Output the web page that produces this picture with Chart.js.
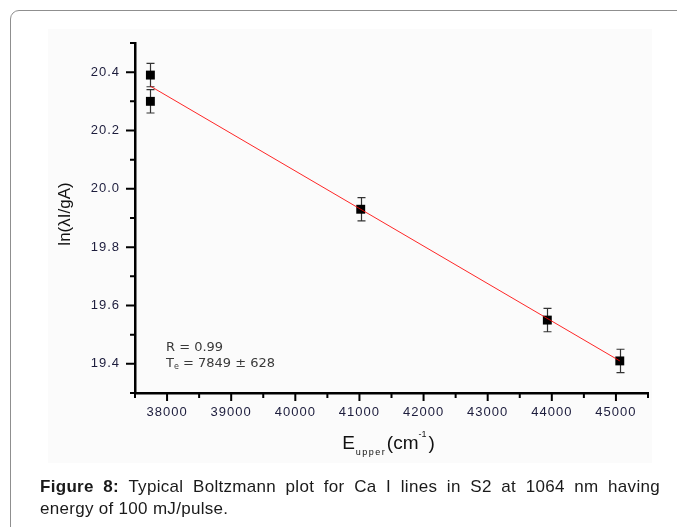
<!DOCTYPE html>
<html>
<head>
<meta charset="utf-8">
<script src="https://cdn.jsdelivr.net/npm/chart.js@4.4.1/dist/chart.umd.min.js"></script>
<style>
html,body{margin:0;padding:0;width:677px;height:527px;overflow:hidden;background:#fff;}
#frame{position:absolute;left:10px;top:10px;width:720px;height:580px;border:1.5px solid #8f8f8f;border-radius:9px;box-sizing:border-box;}
#plotbg{position:absolute;left:48px;top:29px;width:604px;height:434px;background:#fbfbfb;}
#wrap{position:absolute;left:0;top:0;width:677px;height:527px;}
#caption{position:absolute;left:40px;top:476px;width:620px;font-family:"Liberation Sans",Arial,sans-serif;font-size:17px;line-height:22px;color:#1a1a1a;letter-spacing:0.3px;}
#caption .l1{text-align:justify;text-align-last:justify;}
</style>
</head>
<body>
<div id="frame"></div>
<div id="plotbg"></div>
<div id="wrap"><canvas id="c" width="677" height="527"></canvas></div>
<div id="caption">
  <div class="l1"><b>Figure 8:</b> Typical Boltzmann plot for Ca I lines in S2 at 1064 nm having</div>
  <div>energy of 100 mJ/pulse.</div>
</div>
<script>
// ---- data ----
const energies  = [37740, 37740, 41020, 43930, 45060];   // E_upper (cm^-1)
const lnValues  = [20.39, 20.30, 19.93, 19.55, 19.41];   // ln(λI/gA)
const errValues = [0.04, 0.04, 0.04, 0.04, 0.04];        // error bar half-heights
const fitEnergies = [37740, 45060];
const fitValues   = [20.352, 19.41];
const xMajorTicks = [38000, 39000, 40000, 41000, 42000, 43000, 44000, 45000];
const xMinorTicks = [37500, 38500, 39500, 40500, 41500, 42500, 43500, 44500, 45500];
const yMajorTicks = [19.4, 19.6, 19.8, 20.0, 20.2, 20.4];
const yMinorTicks = [19.3, 19.5, 19.7, 19.9, 20.1, 20.3, 20.5];
const yTitle = 'ln(\u03BBI/gA)';
const fitR = '0.99';
const teValue = '7849';
const teError = '628';

const TICK_FONT = '"Liberation Sans", Arial, sans-serif';
const TICK_COLOR = '#1c1c3c';

const errorBarPlugin = {
  id: 'errorBars',
  beforeDatasetsDraw(chart) {
    const ctx = chart.ctx, xs = chart.scales.x, ys = chart.scales.y;
    ctx.save();
    ctx.strokeStyle = '#333';
    ctx.lineWidth = 1.2;
    energies.forEach((e, i) => {
      const x = Math.round(xs.getPixelForValue(e)) + 0.5;
      const yTop = ys.getPixelForValue(lnValues[i] + errValues[i]);
      const yBot = ys.getPixelForValue(lnValues[i] - errValues[i]);
      ctx.beginPath();
      ctx.moveTo(x, yTop); ctx.lineTo(x, yBot);
      ctx.moveTo(x - 4, yTop); ctx.lineTo(x + 4, yTop);
      ctx.moveTo(x - 4, yBot); ctx.lineTo(x + 4, yBot);
      ctx.stroke();
    });
    ctx.restore();
  }
};

const spacingPlugin = {
  id: 'spacing',
  beforeDraw(chart) { chart.ctx.letterSpacing = '1px'; },
  afterDraw(chart) { chart.ctx.letterSpacing = '0px'; }
};

const axisTickPlugin = {
  id: 'axisTicks',
  afterDatasetsDraw(chart) {
    const ctx = chart.ctx, xs = chart.scales.x, ys = chart.scales.y, ca = chart.chartArea;
    ctx.save();
    ctx.strokeStyle = '#000';
    ctx.lineWidth = 2;
    ctx.beginPath();
    xMajorTicks.forEach(v => { const x = xs.getPixelForValue(v); ctx.moveTo(x, ca.bottom); ctx.lineTo(x, ca.bottom + 8); });
    xMinorTicks.forEach(v => { const x = xs.getPixelForValue(v); ctx.moveTo(x, ca.bottom); ctx.lineTo(x, ca.bottom + 5); });
    yMajorTicks.forEach(v => { const y = ys.getPixelForValue(v); ctx.moveTo(ca.left, y); ctx.lineTo(ca.left - 9, y); });
    yMinorTicks.forEach(v => { const y = ys.getPixelForValue(v); ctx.moveTo(ca.left, y); ctx.lineTo(ca.left - 5, y); });
    ctx.stroke();
    ctx.restore();
  }
};

function drawParts(ctx, parts, startX, baseY) {
  let x = startX;
  parts.forEach(p => {
    ctx.font = p.f;
    ctx.letterSpacing = p.ls || '0px';
    ctx.fillText(p.t, x, baseY + (p.dy || 0));
    x += ctx.measureText(p.t).width + (p.gap || 0);
  });
  ctx.letterSpacing = '0px';
}
function partsWidth(ctx, parts) {
  let w = 0;
  parts.forEach(p => { ctx.font = p.f; ctx.letterSpacing = p.ls || '0px'; w += ctx.measureText(p.t).width + (p.gap || 0); });
  ctx.letterSpacing = '0px';
  return w;
}

const textPlugin = {
  id: 'texts',
  afterDraw(chart) {
    const ctx = chart.ctx, ca = chart.chartArea;
    ctx.save();
    ctx.letterSpacing = '0px';
    // y-axis title
    ctx.save();
    ctx.translate(65, (ca.top + ca.bottom) / 2 - 4);
    ctx.rotate(-Math.PI / 2);
    ctx.textAlign = 'center';
    ctx.textBaseline = 'middle';
    ctx.fillStyle = '#111';
    ctx.font = '17px ' + TICK_FONT;
    ctx.fillText(yTitle, 0, 0);
    ctx.restore();

    ctx.textAlign = 'left';
    ctx.textBaseline = 'alphabetic';
    // x-axis title
    ctx.fillStyle = '#111';
    const big = '19px ' + TICK_FONT, small = '9px ' + TICK_FONT;
    const parts = [
      {t: 'E', f: big, gap: 1},
      {t: 'upper', f: small, dy: 6, ls: '1.5px', gap: 0.5},
      {t: '(cm', f: big, gap: 0},
      {t: '-1', f: small, dy: -12, gap: 2},
      {t: ')', f: big}
    ];
    const w = partsWidth(ctx, parts);
    drawParts(ctx, parts, (ca.left + ca.right) / 2 - w / 2 - 3, ca.bottom + 56);
    // annotation
    ctx.fillStyle = '#3a3a3a';
    const af = '13px "DejaVu Sans", Verdana, sans-serif', afs = '8px "DejaVu Sans", Verdana, sans-serif';
    drawParts(ctx, [{t: 'R = ' + fitR, f: af}], ca.left + 31, ca.bottom - 42);
    drawParts(ctx, [
      {t: 'T', f: af},
      {t: 'e', f: afs, dy: 2},
      {t: ' = ' + teValue + ' \u00B1 ' + teError, f: af}
    ], ca.left + 31, ca.bottom - 26);
    ctx.restore();
  }
};

new Chart(document.getElementById('c').getContext('2d'), {
  type: 'scatter',
  data: {
    datasets: [
      {
        label: 'Linear fit',
        data: fitEnergies.map((x, i) => ({x: x, y: fitValues[i]})),
        showLine: true,
        borderColor: 'rgba(255,0,0,0.85)',
        borderWidth: 1,
        pointRadius: 0,
        fill: false,
        order: 0
      },
      {
        label: 'Ca I lines',
        data: energies.map((x, i) => ({x: x, y: lnValues[i]})),
        pointStyle: 'rect',
        pointRadius: 6.3,
        backgroundColor: '#000',
        borderWidth: 0,
        showLine: false,
        order: 1
      }
    ]
  },
  options: {
    responsive: false,
    animation: false,
    devicePixelRatio: 1,
    layout: {padding: {left: 50, right: 29, top: 43, bottom: 104}},
    plugins: {legend: {display: false}, tooltip: {enabled: false}},
    scales: {
      x: {
        type: 'linear',
        min: 37500, max: 45500,
        afterBuildTicks: s => { s.ticks = xMajorTicks.map(v => ({value: v})); },
        afterFit: s => { s.height = 30; },
        grid: {display: false, drawTicks: false},
        border: {display: true, color: '#000', width: 2.5},
        ticks: {padding: 12, color: TICK_COLOR, font: {family: TICK_FONT, size: 13}, maxRotation: 0, autoSkip: false,
                callback: v => String(v)}
      },
      y: {
        type: 'linear',
        min: 19.3, max: 20.5,
        afterBuildTicks: s => { s.ticks = yMajorTicks.map(v => ({value: v})); },
        afterFit: s => { s.width = 85; },
        grid: {display: false, drawTicks: false},
        border: {display: true, color: '#000', width: 2.5},
        ticks: {padding: 15, color: TICK_COLOR, font: {family: TICK_FONT, size: 13}, autoSkip: false,
                callback: v => Number(v).toFixed(1)}
      }
    }
  },
  plugins: [spacingPlugin, errorBarPlugin, axisTickPlugin, textPlugin]
});
</script>
</body>
</html>
